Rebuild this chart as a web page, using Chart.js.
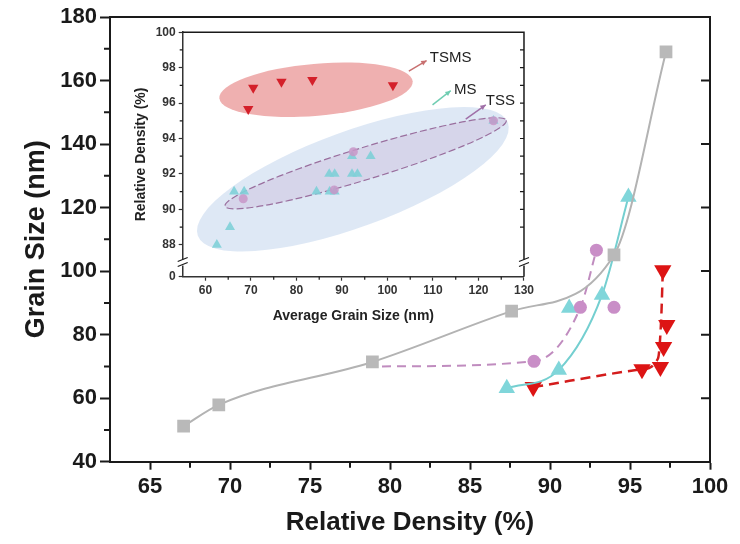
<!DOCTYPE html>
<html>
<head>
<meta charset="utf-8">
<script src="https://cdn.jsdelivr.net/npm/chart.js@4.4.1/dist/chart.umd.min.js"></script>
<style>
  html, body { margin: 0; padding: 0; background: #fff; }
  #wrap { position: relative; width: 740px; height: 544px; }
  #main { position: absolute; left: 0; top: 0; }
  #inset { position: absolute; left: 125px; top: 22px; }
</style>
</head>
<body>
<div id="wrap">
  <canvas id="main" width="740" height="544" style="width:740px;height:544px"></canvas>
  <canvas id="inset" width="412" height="310" style="width:412px;height:310px"></canvas>
</div>
<script>
// ---- main plot: relative density (%) vs grain size (nm) ----
var mainXTicks = [65, 70, 75, 80, 85, 90, 95, 100];
var mainYTicks = [40, 60, 80, 100, 120, 140, 160, 180];

// SS (grey squares, solid)
var ssDensity = [67.1, 69.3, 78.9, 87.6, 94.0, 97.25];
var ssGrain = [51.2, 57.9, 71.4, 87.4, 105.1, 169];

// TSS (purple circles, dashed)
var tssDensity = [89.0, 91.9, 94.0, 92.9];
var tssGrain = [71.6, 88.6, 88.6, 106.6];
var tssCurveDensity = [79.5, 89.0, 91.9, 92.9];
var tssCurveGrain = [70.0, 71.6, 88.6, 106.6];

// MS (cyan triangles, solid)
var msDensity = [87.3, 90.55, 91.2, 93.25, 94.9];
var msGrain = [63.1, 68.9, 88.4, 92.5, 123.3];
var msCurveDensity = [87.3, 90.55, 93.25, 94.9];
var msCurveGrain = [63.1, 68.9, 92.5, 123.3];

// TSMS (red down triangles, dashed)
var tsmsDensity = [88.95, 95.75, 96.9, 97.1, 97.3, 97.05];
var tsmsGrain = [63.5, 69.1, 69.8, 76.1, 83.0, 100.3];
var tsmsCurveDensity = [88.95, 95.75, 96.75, 96.95, 97.05];
var tsmsCurveGrain = [63.5, 69.1, 72.5, 85.0, 100.3];

// ---- inset: average grain size (nm) vs relative density (%) ----
var insetXTicks = [60, 70, 80, 90, 100, 110, 120, 130];
var insetYTicks = [88, 90, 92, 94, 96, 98, 100];
var insetBreakValue = 86.2;   // shown as "0" below the axis break

var insetTsmsSize = [69.4, 70.5, 76.7, 83.5, 101.2];
var insetTsmsDensity = [95.67, 96.86, 97.2, 97.3, 97.0];

var insetMsSize = [62.5, 65.4, 66.3, 68.5, 84.4, 87.3, 88.4, 87.2, 88.4, 92.2, 93.4, 92.2, 96.3, 123.3];
var insetMsDensity = [88, 89, 91, 91, 91, 91, 91, 92, 92, 92, 92, 93, 93, 95];

var insetTssSize = [68.3, 88.3, 92.5, 123.3];
var insetTssDensity = [90.6, 91.1, 93.25, 95.0];

var FONT = 'Liberation Sans, Arial, Helvetica, sans-serif';
var INK = '#1a1a1a';

function zip(xs, ys) {
  return xs.map(function (x, i) { return { x: x, y: ys[i] }; });
}

function curve(xs, ys, color, width, dash) {
  return {
    data: zip(xs, ys),
    showLine: true,
    pointRadius: 0,
    borderColor: color,
    borderWidth: width,
    borderDash: dash || [],
    cubicInterpolationMode: 'monotone',
    fill: false
  };
}

function markers(xs, ys, color, style, radius, rotation) {
  return {
    data: zip(xs, ys),
    showLine: false,
    pointStyle: style,
    pointRadius: radius,
    pointRotation: rotation || 0,
    pointBackgroundColor: color,
    pointBorderWidth: 0,
    borderWidth: 0
  };
}

// draws top/right frame, minor ticks, inward ticks on the right
function framePlugin(opts) {
  return {
    id: 'frame',
    afterDraw: function (chart) {
      var ctx = chart.ctx, a = chart.chartArea;
      var xs = chart.scales.x, ys = chart.scales.y;
      ctx.save();
      ctx.strokeStyle = INK;
      ctx.lineWidth = opts.width;
      ctx.beginPath();
      ctx.moveTo(a.left, a.top);
      ctx.lineTo(a.right, a.top);
      ctx.lineTo(a.right, a.bottom);
      ctx.stroke();

      ctx.lineWidth = opts.tickWidth;
      ctx.beginPath();
      opts.yMinor.forEach(function (v) {
        var p = ys.getPixelForValue(v);
        ctx.moveTo(a.left - opts.minorLen, p);
        ctx.lineTo(a.left, p);
      });
      opts.xMinor.forEach(function (v) {
        var p = xs.getPixelForValue(v);
        ctx.moveTo(p, a.bottom);
        ctx.lineTo(p, a.bottom + opts.minorLen);
      });
      opts.yRight.forEach(function (v) {
        var p = ys.getPixelForValue(v);
        ctx.moveTo(a.right - opts.rightLen, p);
        ctx.lineTo(a.right, p);
      });
      ctx.stroke();

      if (opts.breakAt !== undefined) {
        var by = ys.getPixelForValue(opts.breakAt);
        [a.left, a.right].forEach(function (bx) {
          ctx.fillStyle = '#fff';
          ctx.fillRect(bx - 5, by - 3, 10, 6);
          ctx.lineWidth = 1.2;
          ctx.beginPath();
          ctx.moveTo(bx - 5, by - 1); ctx.lineTo(bx + 5, by - 5);
          ctx.moveTo(bx - 5, by + 4); ctx.lineTo(bx + 5, by);
          ctx.stroke();
        });
      }
      ctx.restore();
    }
  };
}

function range(from, to, step) {
  var out = [];
  for (var v = from; v <= to + 1e-9; v += step) out.push(v);
  return out;
}

// ---------------- main chart ----------------
new Chart(document.getElementById('main'), {
  type: 'scatter',
  data: {
    datasets: [
      markers(ssDensity, ssGrain, '#b9b9b9', 'rect', 9),
      curve(ssDensity, ssGrain, '#b3b3b3', 2),
      markers(tssDensity, tssGrain, '#c98ec7', 'circle', 6.5),
      curve(tssCurveDensity, tssCurveGrain, '#c08cbf', 2, [9, 6]),
      markers(msDensity, msGrain, '#80d6da', 'triangle', 9.5),
      curve(msCurveDensity, msCurveGrain, '#74cfd0', 2),
      markers(tsmsDensity, tsmsGrain, '#dd1414', 'triangle', 10, 180),
      curve(tsmsCurveDensity, tsmsCurveGrain, '#d41c1c', 2.5, [10, 6])
    ]
  },
  options: {
    responsive: false,
    animation: false,
    events: [],
    layout: { padding: { top: 17, right: 30, left: 0, bottom: 0 } },
    plugins: { legend: { display: false }, tooltip: { enabled: false } },
    scales: {
      x: {
        type: 'linear', min: 62.5, max: 100,
        afterBuildTicks: function (s) { s.ticks = mainXTicks.map(function (v) { return { value: v }; }); },
        afterFit: function (s) { s.height = 82.3; },
        border: { color: INK, width: 2 },
        grid: { drawOnChartArea: false, drawTicks: true, tickLength: 8, tickWidth: 2, tickColor: INK },
        ticks: { font: { family: FONT, weight: 'bold', size: 22 }, color: INK, padding: 4, maxRotation: 0 },
        title: {
          display: true, text: 'Relative Density (%)', color: INK,
          font: { family: FONT, weight: 'bold', size: 26 }, padding: { top: 0, bottom: 6 }
        }
      },
      y: {
        type: 'linear', min: 40, max: 180,
        afterBuildTicks: function (s) { s.ticks = mainYTicks.map(function (v) { return { value: v }; }); },
        afterFit: function (s) { s.width = 110; },
        border: { color: INK, width: 2 },
        grid: { drawOnChartArea: false, drawTicks: true, tickLength: 10, tickWidth: 2, tickColor: INK },
        ticks: { font: { family: FONT, weight: 'bold', size: 22 }, color: INK, padding: 3 },
        title: {
          display: true, text: 'Grain Size (nm)', color: INK,
          font: { family: FONT, weight: 'bold', size: 27 }, padding: { top: 20, bottom: 0 }
        }
      }
    }
  },
  plugins: [framePlugin({
    width: 2, tickWidth: 2, minorLen: 6, rightLen: 9,
    yMinor: range(50, 170, 20),
    xMinor: range(67.5, 97.5, 5),
    yRight: mainYTicks.slice(1, -1)
  })]
});

// ---------------- inset ----------------
var insetGroups = [
  { cx: 92.4, cy: 91.7, rx: 165, ry: 48, angle: -20, fill: 'rgba(214,226,242,0.8)' },
  { cx: 84.3, cy: 96.75, rx: 97, ry: 26, angle: -5, fill: 'rgba(233,150,150,0.75)' },
  { cx: 95.2, cy: 92.6, rx: 147, ry: 16, angle: -17, fill: 'rgba(205,190,222,0.45)', stroke: '#9a6f9e', dash: [7, 3] }
];

var insetNotes = [
  { text: 'TSMS', from: [104.7, 97.8], to: [108.6, 98.4], at: [109.3, 98.54], color: '#c87070' },
  { text: 'MS', from: [109.9, 95.9], to: [113.9, 96.7], at: [114.6, 96.75], color: '#70cdb2' },
  { text: 'TSS', from: [117.2, 95.1], to: [121.6, 95.9], at: [121.6, 96.14], color: '#a070a8' }
];

var insetDecor = {
  id: 'insetDecor',
  beforeDatasetsDraw: function (chart) {
    var ctx = chart.ctx, xs = chart.scales.x, ys = chart.scales.y;
    insetGroups.forEach(function (g) {
      ctx.save();
      ctx.beginPath();
      ctx.ellipse(xs.getPixelForValue(g.cx), ys.getPixelForValue(g.cy), g.rx, g.ry,
        g.angle * Math.PI / 180, 0, 2 * Math.PI);
      ctx.fillStyle = g.fill;
      ctx.fill();
      if (g.stroke) {
        ctx.setLineDash(g.dash);
        ctx.strokeStyle = g.stroke;
        ctx.lineWidth = 1.2;
        ctx.stroke();
      }
      ctx.restore();
    });
  },
  afterDatasetsDraw: function (chart) {
    var ctx = chart.ctx, xs = chart.scales.x, ys = chart.scales.y;
    insetNotes.forEach(function (n) {
      var x1 = xs.getPixelForValue(n.from[0]), y1 = ys.getPixelForValue(n.from[1]);
      var x2 = xs.getPixelForValue(n.to[0]), y2 = ys.getPixelForValue(n.to[1]);
      var ang = Math.atan2(y2 - y1, x2 - x1);
      ctx.save();
      ctx.strokeStyle = n.color;
      ctx.fillStyle = n.color;
      ctx.lineWidth = 1.5;
      ctx.beginPath();
      ctx.moveTo(x1, y1);
      ctx.lineTo(x2, y2);
      ctx.stroke();
      ctx.beginPath();
      ctx.moveTo(x2, y2);
      ctx.lineTo(x2 - 6 * Math.cos(ang - 0.45), y2 - 6 * Math.sin(ang - 0.45));
      ctx.lineTo(x2 - 6 * Math.cos(ang + 0.45), y2 - 6 * Math.sin(ang + 0.45));
      ctx.closePath();
      ctx.fill();
      ctx.fillStyle = '#222';
      ctx.font = '15px ' + FONT;
      ctx.textAlign = 'left';
      ctx.textBaseline = 'middle';
      ctx.fillText(n.text, xs.getPixelForValue(n.at[0]), ys.getPixelForValue(n.at[1]));
      ctx.restore();
    });
  }
};

new Chart(document.getElementById('inset'), {
  type: 'scatter',
  data: {
    datasets: [
      markers(insetTssSize, insetTssDensity, 'rgba(200,150,200,0.85)', 'circle', 4.5),
      markers(insetTsmsSize, insetTsmsDensity, '#d4202a', 'triangle', 6, 180),
      markers(insetMsSize, insetMsDensity, 'rgba(128,208,216,0.9)', 'triangle', 5.8)
    ]
  },
  options: {
    responsive: false,
    animation: false,
    events: [],
    layout: { padding: { top: 8, right: 12, left: 0, bottom: 0 } },
    plugins: { legend: { display: false }, tooltip: { enabled: false } },
    scales: {
      x: {
        type: 'linear', min: 55, max: 130,
        afterBuildTicks: function (s) { s.ticks = insetXTicks.map(function (v) { return { value: v }; }); },
        afterFit: function (s) { s.height = 55.3; },
        border: { color: '#333', width: 1.5 },
        grid: { drawOnChartArea: false, drawTicks: true, tickLength: 4, tickWidth: 1.2, tickColor: '#333' },
        ticks: { font: { family: FONT, weight: 'bold', size: 12 }, color: '#333', padding: 3, maxRotation: 0 },
        title: {
          display: true, text: 'Average Grain Size (nm)', color: '#222',
          font: { family: FONT, weight: 'bold', size: 14 }, padding: { top: 0, bottom: 7.6 }
        }
      },
      y: {
        type: 'linear', min: insetBreakValue, max: 100,
        afterBuildTicks: function (s) {
          s.ticks = [insetBreakValue].concat(insetYTicks).map(function (v) { return { value: v }; });
        },
        afterFit: function (s) { s.width = 57.7; },
        border: { color: '#333', width: 1.5 },
        grid: { drawOnChartArea: false, drawTicks: true, tickLength: 4, tickWidth: 1.2, tickColor: '#333' },
        ticks: {
          font: { family: FONT, weight: 'bold', size: 12 }, color: '#333', padding: 3,
          callback: function (v) { return v === insetBreakValue ? '0' : v; }
        },
        title: {
          display: true, text: 'Relative Density (%)', color: '#222',
          font: { family: FONT, weight: 'bold', size: 14 }, padding: { top: 7.6, bottom: 0 }
        }
      }
    }
  },
  plugins: [insetDecor, framePlugin({
    width: 1.5, tickWidth: 1.2, minorLen: 3, rightLen: 4,
    yMinor: range(89, 99, 2),
    xMinor: range(65, 125, 10),
    yRight: range(89, 99, 1),
    breakAt: 87.0
  })]
});
</script>
</body>
</html>
